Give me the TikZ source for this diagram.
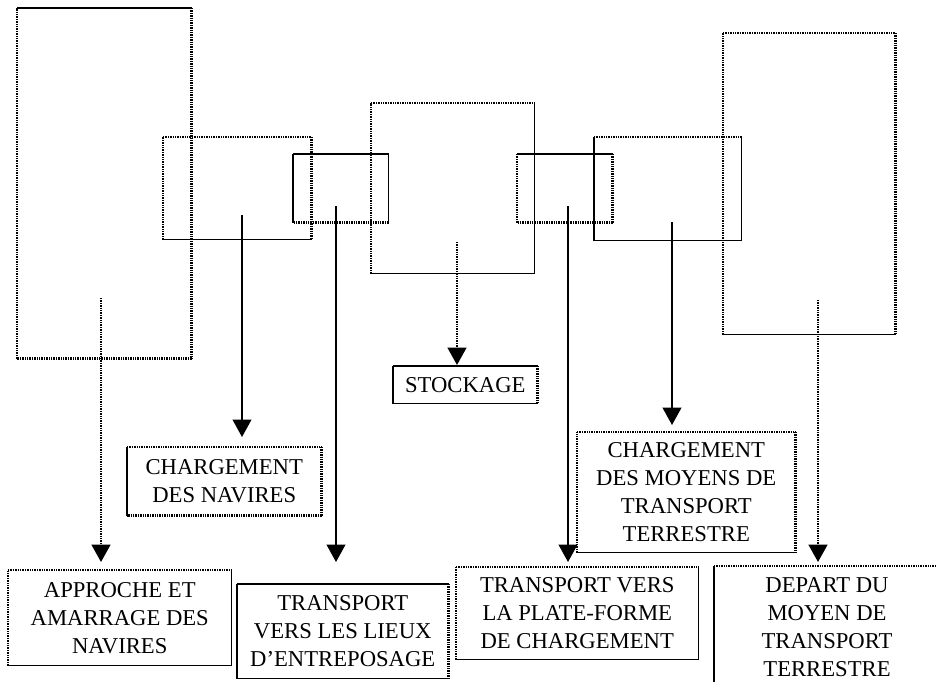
\documentclass[tikz,border=0pt]{standalone}
\usepackage{fontspec}
\setmainfont{Liberation Serif}
\usetikzlibrary{arrows.meta}
\tikzset{
  solln/.style={line width=1.3pt},
  dotln/.style={line width=1.7pt, dash pattern=on 1pt off 0.8pt},
  frame/.style={rectangle, inner sep=0pt, draw=none, anchor=north west},
  lbl/.style={frame, align=center, font=\fontsize{17}{21}\selectfont},
  arr/.style={line width=1.3pt, -{Triangle[width=14pt,length=13pt]}},
}
\newcommand\boxsides[5]{%
  \draw[#2] (#1.north west) -- (#1.north east);
  \draw[#3] (#1.north east) -- (#1.south east);
  \draw[#4] (#1.south east) -- (#1.south west);
  \draw[#5] (#1.south west) -- (#1.north west);}
\begin{document}
\begin{tikzpicture}[x=0.75pt, y=-0.75pt]
\useasboundingbox (0,0) rectangle (936,682);
% overlapping process rectangles
\node[frame, minimum width={(191-17)*0.75pt}, minimum height={(358-8)*0.75pt}] (A) at (17,8) {};
\node[frame, minimum width={(311-163)*0.75pt}, minimum height={(239-137)*0.75pt}] (B) at (163,137) {};
\node[frame, minimum width={(388-293)*0.75pt}, minimum height={(222-154)*0.75pt}] (C) at (293,154) {};
\node[frame, minimum width={(534-371)*0.75pt}, minimum height={(273-103)*0.75pt}] (D) at (371,103) {};
\node[frame, minimum width={(612-517)*0.75pt}, minimum height={(222-154)*0.75pt}] (E) at (517,154) {};
\node[frame, minimum width={(741-594)*0.75pt}, minimum height={(240-137)*0.75pt}] (F) at (594,137) {};
\node[frame, minimum width={(895-723)*0.75pt}, minimum height={(334-33)*0.75pt}] (G) at (723,33) {};
\boxsides{A}{solln}{dotln}{dotln}{dotln}
\boxsides{B}{dotln}{dotln}{solln}{dotln}
\boxsides{C}{solln}{solln}{dotln}{solln}
\boxsides{D}{dotln}{solln}{solln}{dotln}
\boxsides{E}{solln}{dotln}{dotln}{dotln}
\boxsides{F}{dotln}{solln}{solln}{solln}
\boxsides{G}{dotln}{dotln}{solln}{dotln}
% label boxes
\node[lbl, minimum width={(231-8)*0.75pt}, minimum height={(665-570)*0.75pt}] (L1) at (8,570) {APPROCHE ET\\AMARRAGE DES\\NAVIRES};
\node[lbl, minimum width={(321-127)*0.75pt}, minimum height={(515-447)*0.75pt}] (L2) at (127,447) {CHARGEMENT\\DES NAVIRES};
\node[lbl, minimum width={(448-237)*0.75pt}, minimum height={(678-584)*0.75pt}] (L3) at (237,584) {TRANSPORT\\VERS LES LIEUX\\D’ENTREPOSAGE};
\node[lbl, minimum width={(537-393)*0.75pt}, minimum height={(403-366)*0.75pt}] (L4) at (393,366) {STOCKAGE};
\node[lbl, minimum width={(795-577)*0.75pt}, minimum height={(552-432)*0.75pt}] (L5) at (577,432) {CHARGEMENT\\DES MOYENS DE\\TRANSPORT\\TERRESTRE};
\node[lbl, minimum width={(698-456)*0.75pt}, minimum height={(659-567)*0.75pt}] (L6) at (456,567) {TRANSPORT VERS\\LA PLATE-FORME\\DE CHARGEMENT};
\node[lbl, minimum width={(940-714)*0.75pt}, minimum height={(686-566)*0.75pt}] (L7) at (714,566) {};
\node[font=\fontsize{17}{21}\selectfont, align=center, inner sep=0pt] (T7) at (827,627) {DEPART DU\\MOYEN DE\\TRANSPORT\\TERRESTRE};
\boxsides{L1}{dotln}{solln}{solln}{dotln}
\boxsides{L2}{dotln}{dotln}{dotln}{solln}
\boxsides{L3}{solln}{dotln}{solln}{solln}
\boxsides{L4}{solln}{dotln}{solln}{solln}
\boxsides{L5}{dotln}{dotln}{solln}{dotln}
\boxsides{L6}{dotln}{solln}{solln}{dotln}
\draw[dotln] (L7.north west) -- (L7.north east);
\draw[solln] (L7.north west) -- (L7.south west);
% arrows
\coordinate (s1) at (101,298);
\coordinate (s2) at (242,215);
\coordinate (s3) at (336,206);
\coordinate (s4) at (457,242);
\coordinate (s5) at (568,206);
\coordinate (s6) at (672,222);
\coordinate (s7) at (818,300);
\draw[arr, dotln, shorten >=6pt] (s1) -- (s1 |- L1.north);
\draw[arr, solln, shorten >=7.5pt] (s2) -- (s2 |- L2.north);
\draw[arr, solln, shorten >=16.5pt] (s3) -- (s3 |- L3.north);
\draw[arr, dotln, shorten >=0.75pt] (s4) -- (s4 |- L4.north);
\draw[arr, solln, shorten >=3.75pt] (s5) -- (s5 |- L6.north);
\draw[arr, solln, shorten >=5.25pt] (s6) -- (s6 |- L5.north);
\draw[arr, dotln, shorten >=3pt] (s7) -- (s7 |- L7.north);
\end{tikzpicture}
\end{document}
